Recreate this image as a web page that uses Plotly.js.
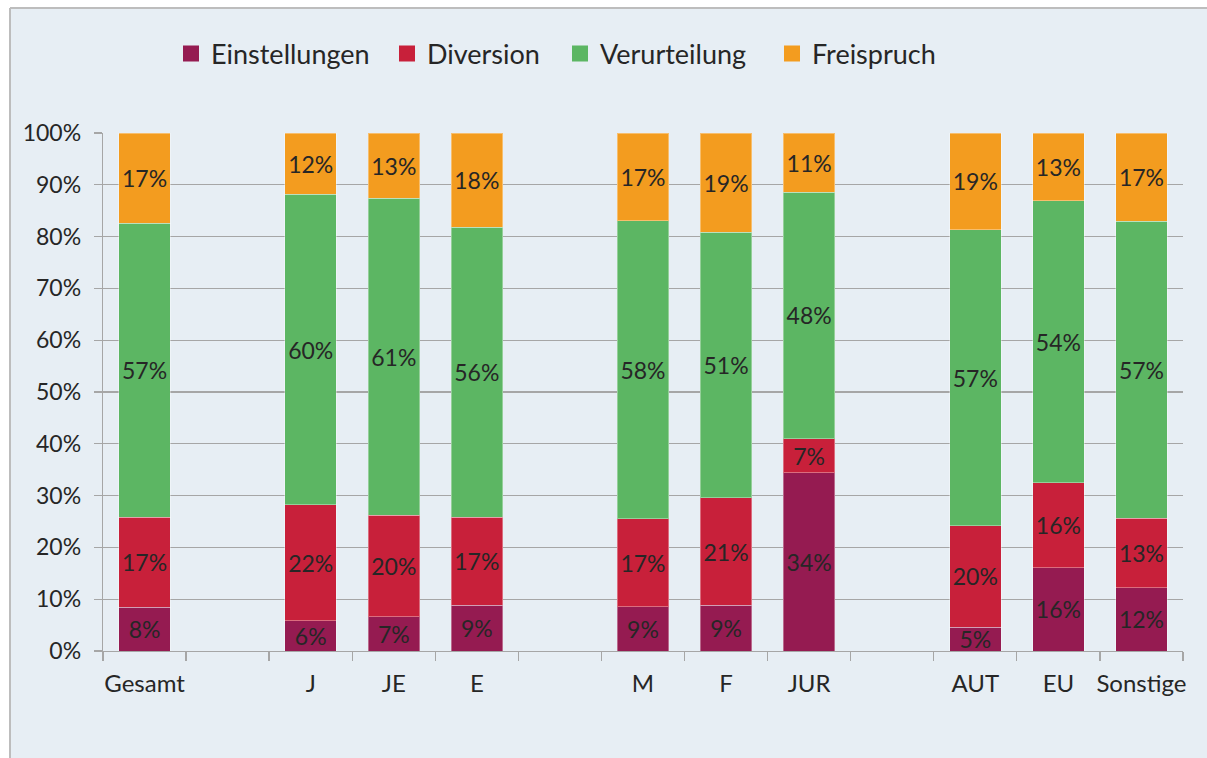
<!DOCTYPE html>
<html>
<head>
<meta charset="utf-8">
<script src="https://cdn.plot.ly/plotly-3.0.1.min.js"></script>
<style>
  html, body { margin: 0; padding: 0; background: #E7EEF4; overflow: hidden; }
  #chart { width: 1207px; height: 758px; }
</style>
</head>
<body>
<div id="chart"></div>
<script>
// Categories (blank slots are gaps between groups)
const categories = ['Gesamt', ' ', 'J', 'JE', 'E', '  ', 'M', 'F', 'JUR', '   ', 'AUT', 'EU', 'Sonstige'];

// Series values in percent (null for the empty slots)
const einstellungen = [8.4, null, 5.8, 6.6, 8.8, null, 8.5, 8.8, 34.4, null, 4.6, 16.1, 12.2];
const diversion     = [17.4, null, 22.4, 19.6, 17.0, null, 17.0, 20.8, 6.6, null, 19.6, 16.4, 13.4];
const verurteilung  = [56.8, null, 60.0, 61.2, 56.0, null, 57.6, 51.2, 47.6, null, 57.1, 54.4, 57.4];
const freispruch    = [17.4, null, 11.8, 12.6, 18.2, null, 16.9, 19.2, 11.4, null, 18.7, 13.1, 17.0];

const seriesNames  = ['Einstellungen', 'Diversion', 'Verurteilung', 'Freispruch'];
const seriesColors = ['#951B51', '#C8203A', '#5CB663', '#F39C1F'];
const seriesValues = [einstellungen, diversion, verurteilung, freispruch];

const FONT = 'Lato, "Open Sans", sans-serif';
const TEXT_COLOR = '#262626';
const AXIS_COLOR = '#A6A6A6';

const traces = [];
seriesValues.forEach((vals, i) => {
  traces.push({
    type: 'bar',
    name: seriesNames[i],
    x: categories,
    y: vals,
    text: vals.map(v => v == null ? '' : Math.round(v) + '%'),
    textposition: 'inside',
    insidetextanchor: 'middle',
    textangle: 0,
    constraintext: 'none',
    textfont: { family: FONT, size: 23, color: TEXT_COLOR },
    marker: { color: seriesColors[i], line: { color: 'rgba(255,255,255,0.35)', width: 1 } },
    showlegend: false,
    hoverinfo: 'skip'
  });
});

const L = 103, R = 24, T = 133, B = 107;
const W = 1207, H = 758;
const pw = W - L - R, ph = H - T - B;
const px = (p) => (p - L) / pw;
const py = (p) => (H - B - p) / ph;

// legend entries (square markers), one legend box per entry
const legendKeys = ['legend', 'legend2', 'legend3', 'legend4'];
const legendTextStart = [211, 427, 600, 812];
seriesValues.forEach((vals, i) => {
  traces.push({
    type: 'scatter',
    mode: 'markers',
    name: seriesNames[i],
    x: [null],
    y: [null],
    marker: { symbol: 'square', size: 17, color: seriesColors[i] },
    showlegend: true,
    legend: legendKeys[i],
    hoverinfo: 'skip'
  });
});

const layout = {
  width: W,
  height: H,
  margin: { l: L, r: R, t: T, b: B, pad: 0 },
  paper_bgcolor: '#E7EEF4',
  plot_bgcolor: 'rgba(0,0,0,0)',
  font: { family: FONT, size: 23, color: TEXT_COLOR },
  barmode: 'stack',
  bargap: 0.38,
  hovermode: false,
  showlegend: true,
  xaxis: {
    type: 'category',
    categoryorder: 'array',
    categoryarray: categories,
    tickson: 'boundaries',
    ticks: 'outside',
    ticklen: 9,
    tickwidth: 1.3,
    tickcolor: AXIS_COLOR,
    tickangle: 0,
    showline: true,
    linecolor: AXIS_COLOR,
    linewidth: 1.3,
    showgrid: false,
    zeroline: false,
    ticklabelstandoff: 11,
    tickfont: { family: FONT, size: 24, color: TEXT_COLOR },
    fixedrange: true
  },
  yaxis: {
    range: [0, 100],
    dtick: 10,
    tick0: 0,
    ticksuffix: '%',
    ticks: 'outside',
    ticklen: 8,
    tickwidth: 1.3,
    tickcolor: AXIS_COLOR,
    showline: true,
    linecolor: AXIS_COLOR,
    linewidth: 1.3,
    showgrid: true,
    gridcolor: AXIS_COLOR,
    gridwidth: 1.3,
    zeroline: false,
    ticklabelstandoff: 8,
    tickfont: { family: FONT, size: 23, color: TEXT_COLOR },
    fixedrange: true
  },
  shapes: [
    { // white strip at top
      type: 'rect',
      xref: 'paper', yref: 'paper',
      x0: px(-5), x1: px(W + 5),
      y0: py(8), y1: py(-5),
      fillcolor: '#ffffff',
      line: { width: 0 },
      layer: 'below'
    },
    { // white strip at left
      type: 'rect',
      xref: 'paper', yref: 'paper',
      x0: px(-5), x1: px(10),
      y0: py(H + 5), y1: py(8),
      fillcolor: '#ffffff',
      line: { width: 0 },
      layer: 'below'
    },
    { // top border
      type: 'line',
      xref: 'paper', yref: 'paper',
      x0: px(10), x1: px(W + 5),
      y0: py(8), y1: py(8),
      line: { color: '#BDBDBD', width: 2 },
      layer: 'below'
    },
    { // left border
      type: 'line',
      xref: 'paper', yref: 'paper',
      x0: px(10), x1: px(10),
      y0: py(8), y1: py(H + 5),
      line: { color: '#BDBDBD', width: 2 },
      layer: 'below'
    }
  ]
};

legendKeys.forEach((k, i) => {
  layout[k] = {
    orientation: 'h',
    x: px(legendTextStart[i] - 40),
    xanchor: 'left',
    y: py(54),
    yanchor: 'middle',
    bgcolor: 'rgba(0,0,0,0)',
    font: { family: FONT, size: 27, color: TEXT_COLOR }
  };
});

Plotly.newPlot('chart', traces, layout, { displayModeBar: false, staticPlot: true });
</script>
</body>
</html>
